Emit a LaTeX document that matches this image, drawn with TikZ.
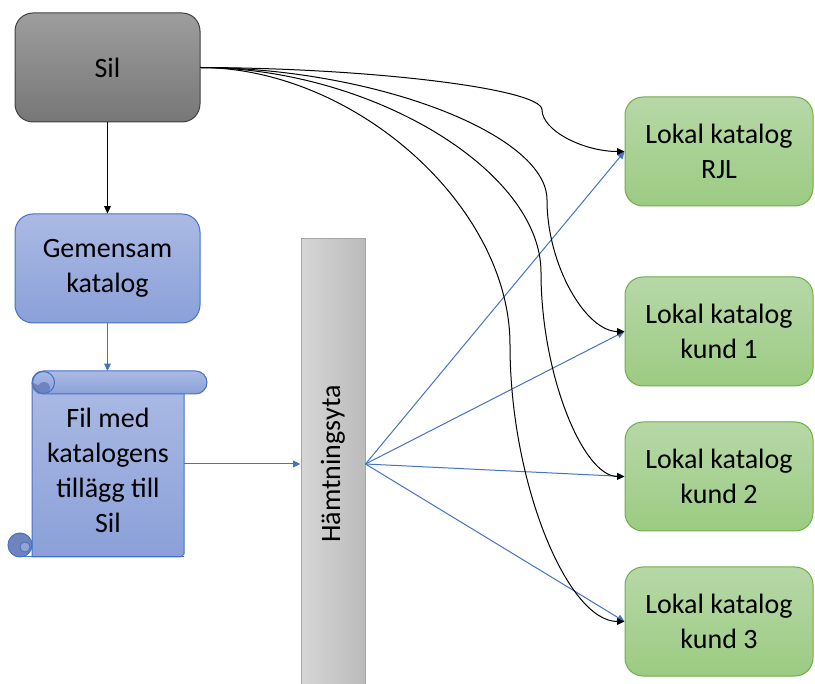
\documentclass[tikz,border=0pt]{standalone}
\usepackage{fontspec}
\setmainfont{Carlito}
\usetikzlibrary{arrows.meta,calc}
\definecolor{silT}{HTML}{9D9D9D}
\definecolor{silB}{HTML}{777777}
\definecolor{silD}{HTML}{404040}
\definecolor{bluT}{HTML}{ABBAE4}
\definecolor{bluB}{HTML}{8AA0D8}
\definecolor{bluD}{HTML}{4472C4}
\definecolor{bluDark}{HTML}{6F84BE}
\definecolor{grnT}{HTML}{B6D8A7}
\definecolor{grnB}{HTML}{9CCB82}
\definecolor{grnD}{HTML}{70AD47}
\definecolor{hamL}{HTML}{D6D6D6}
\definecolor{hamR}{HTML}{BBBBBB}
\definecolor{hamD}{HTML}{A6A6A6}
\tikzset{
  txt/.style={align=center, font=\fontsize{21}{26.25}\selectfont, inner sep=0pt, text=black},
  box/.style={txt, rounded corners=13.5pt, line width=0.75pt},
  silbox/.style={box, draw=silD, top color=silT, bottom color=silB, minimum width=138.75pt, minimum height=81.75pt},
  bluebox/.style={box, draw=bluD, top color=bluT, bottom color=bluB, minimum width=138.75pt, minimum height=81.75pt},
  greenbox/.style={box, draw=grnD, top color=grnT, bottom color=grnB, minimum width=141pt, minimum height=81.75pt},
  hambox/.style={draw=hamD, line width=0.75pt, left color=hamL, right color=hamR, minimum width=48pt, minimum height=337.5pt, inner sep=0pt},
  scrollfill/.style={draw=bluD, line width=0.75pt, top color=bluT, bottom color=bluB},
  tip/.style={-{Triangle[length=5.5pt,width=5pt]}},
  blk/.style={tip, draw=black, line width=0.75pt},
  blu/.style={tip, draw=bluD, line width=0.75pt},
}
\begin{document}
\begin{tikzpicture}[x=0.75pt,y=-0.75pt]
\useasboundingbox (0,0) rectangle (815,684);

% nodes
\node[silbox] (sil) at (107.5,67.5) {Sil};
\node[bluebox] (gem) at (107.5,268.5) {Gemensam\\katalog};
\node[hambox, label={[txt,rotate=90]center:Hämtningsyta}] (hamt) at (333,464) {};
\node[greenbox] (rjl) at (719,151.5) {Lokal katalog\\RJL};
\node[greenbox] (k1) at (719,331.5) {Lokal katalog\\kund 1};
\node[greenbox] (k2) at (719,476.5) {Lokal katalog\\kund 2};
\node[greenbox] (k3) at (719,621.5) {Lokal katalog\\kund 3};

% scroll
\draw[scrollfill] (32,383) -- (32,557) -- (181,557) -- (184,554) -- (184,383) -- cycle;
\draw[scrollfill, rounded corners=8.6pt] (32,371) rectangle (207,394);
\fill[bluDark] (44,388) circle[radius=6];
\fill[bluDark] (32,382.5) -- (32,388) -- (38,394) -- (50,394) -- (44,388) -- cycle;
\draw[draw=bluD, line width=0.75pt] (43.5,382.5) circle[radius=11];
\draw[draw=bluD, line width=0.75pt, fill=bluDark] (20,545) circle[radius=12];
\draw[draw=bluD, line width=0.6pt, fill=bluT!60!bluDark] (25,547) circle[radius=5];
\draw[draw=bluD, line width=0.75pt] (20,557) -- (184,557);
\node[txt, minimum width=114pt, minimum height=130.5pt] (fil) at (108,470) {Fil med\\katalogens\\tillägg till\\Sil};
\coordinate (filtop) at (107.5,371);

% connectors
\draw[blk] (sil.south) -- (gem.north);
\draw[blu] (gem.south) -- (filtop);
\draw[blu] (hamt.west -| fil.east) -- (hamt.west);
\draw[blu] (hamt.east) -- (rjl.west);
\draw[blu] (hamt.east) -- (k1.west);
\draw[blu] (hamt.east) -- (k2.west);
\draw[blu] (hamt.east) -- (k3.west);

\draw[blk] (sil.east) .. controls (371,68) and (542,88.9) .. (542,109.75)
   .. controls (542,130.6) and (583.5,151.5) .. (rjl.west);
\draw[blk] (sil.east) .. controls (373.5,68) and (547,133.9) .. (547,199.75)
   .. controls (547,265.6) and (586,331.5) .. (k1.west);
\draw[blk] (sil.east) .. controls (370.5,68) and (541,170.1) .. (541,272.25)
   .. controls (541,374.4) and (583,476.5) .. (k2.west);
\draw[blk] (sil.east) .. controls (355,68) and (510,206.4) .. (510,344.75)
   .. controls (510,483.1) and (567.5,621.5) .. (k3.west);
\end{tikzpicture}
\end{document}
